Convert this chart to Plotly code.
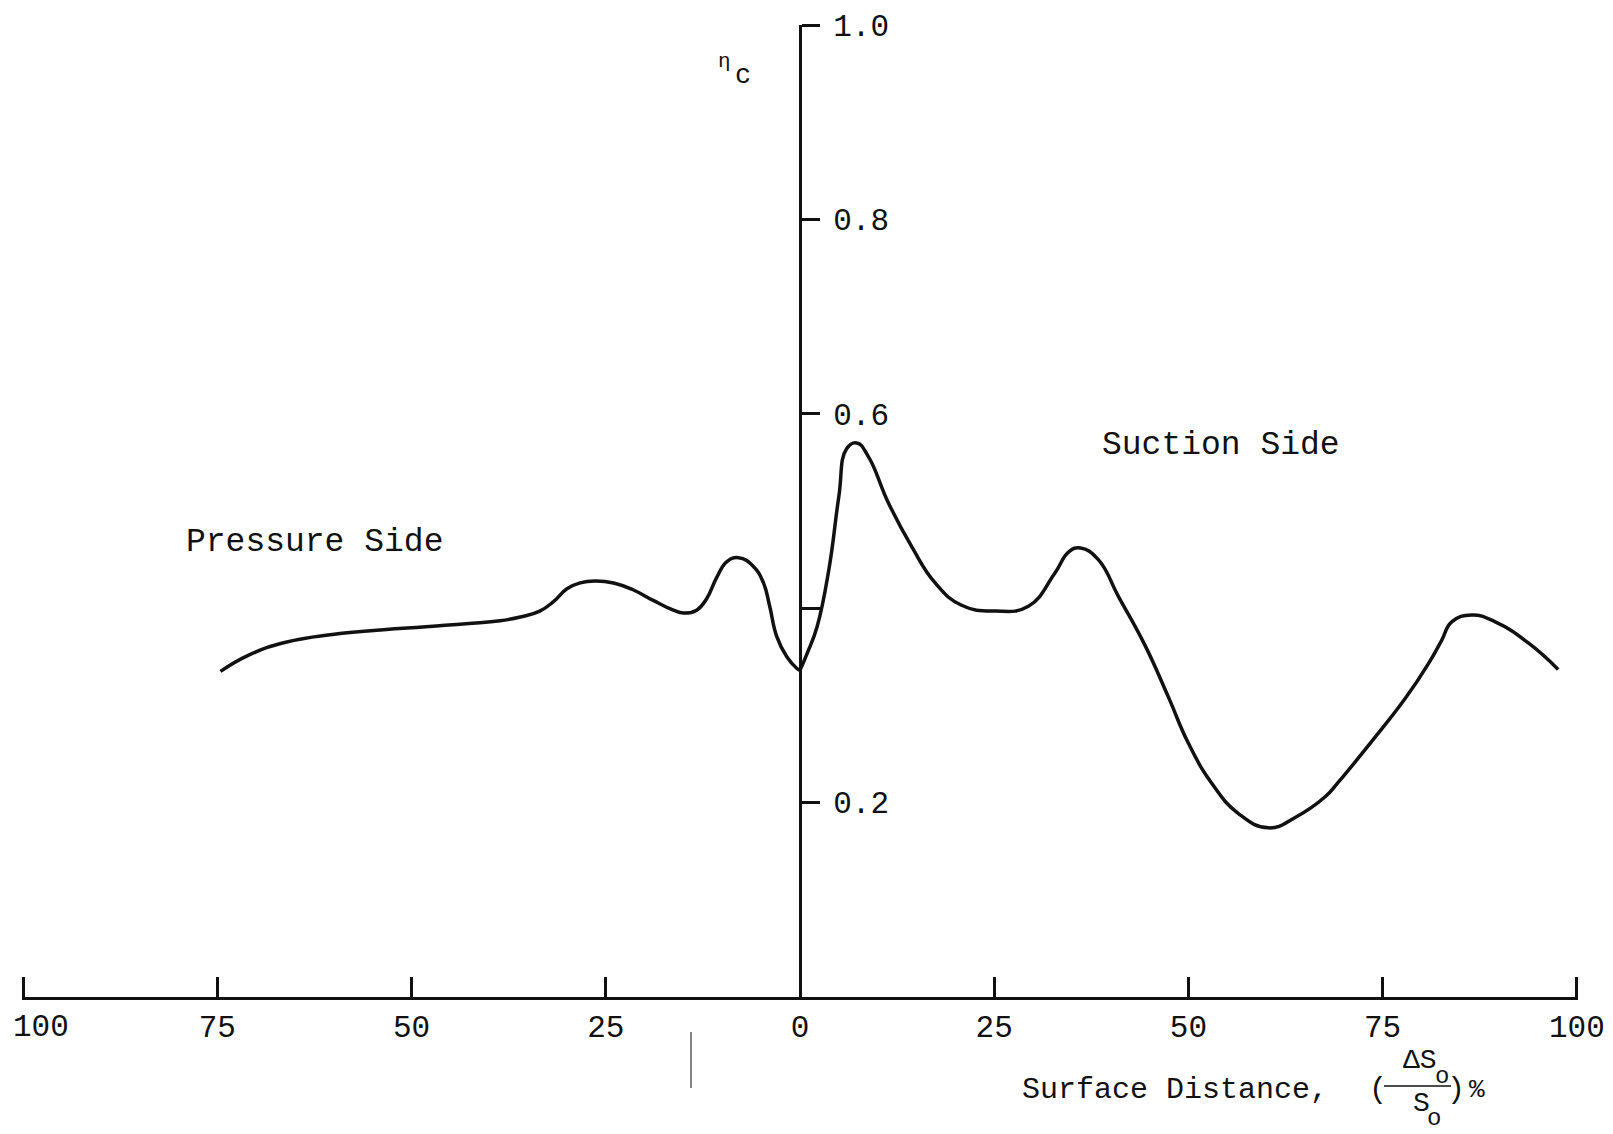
import plotly.graph_objects as go

# Cooling effectiveness along the blade surface (pressure side negative, suction side positive)
pressure_x = [-74.6, -70.9, -66.2, -60.2, -51.6, -43.0, -38.6, -36.0, -33.5, -31.7, -30.0,
              -28.3, -26.4, -24.0, -21.5, -18.9, -16.3, -15.0, -13.3, -12.0, -10.7, -9.4,
              -7.9, -6.0, -4.7, -3.9, -3.0, -1.7, -0.4, 0.0]
pressure_eta = [0.335, 0.352, 0.365, 0.373, 0.379, 0.384, 0.387, 0.391, 0.397, 0.407, 0.420,
                0.426, 0.428, 0.426, 0.419, 0.408, 0.398, 0.395, 0.398, 0.410, 0.432, 0.448,
                0.452, 0.443, 0.426, 0.402, 0.371, 0.350, 0.338, 0.336]

suction_x = [0.0, 1.0, 2.2, 3.7, 5.0, 6.0, 7.3, 8.8, 11.4, 14.4, 17.4, 20.8, 25.1, 29.4,
             32.8, 34.6, 36.1, 38.4, 41.0, 44.4, 47.4, 50.0, 53.0, 56.4, 60.3, 63.8, 67.6,
             69.3, 73.5, 77.9, 80.9, 82.6, 83.9, 86.5, 89.5, 93.8, 97.6]
suction_eta = [0.336, 0.355, 0.381, 0.439, 0.515, 0.564, 0.570, 0.556, 0.508, 0.463, 0.426,
               0.403, 0.397, 0.402, 0.436, 0.458, 0.462, 0.450, 0.412, 0.362, 0.309, 0.261,
               0.220, 0.189, 0.174, 0.185, 0.206, 0.221, 0.262, 0.307, 0.343, 0.367, 0.386,
               0.393, 0.386, 0.364, 0.337]

x_tick_vals = [-100, -75, -50, -25, 0, 25, 50, 75, 100]
x_tick_text = ["", "75", "50", "25", "0", "25", "50", "75", "100"]
left_end_label = "100"
y_tick_vals = [0.2, 0.4, 0.6, 0.8, 1.0]
y_tick_text = ["0.2", "", "0.6", "0.8", "1.0"]

W, H = 1613, 1134
L, R, T, B = 22, 35, 25, 137
FONT = "Liberation Mono"
INK = "#111111"


def px(X, Y):
    """Pixel position on the page -> paper coordinates."""
    return (X - L) / (W - L - R), (H - B - Y) / (H - T - B)


fig = go.Figure()
line_style = dict(color=INK, width=3.5, shape="spline", smoothing=1.3)
fig.add_trace(go.Scatter(x=pressure_x, y=pressure_eta, mode="lines", line=line_style,
                         name="Pressure Side", hoverinfo="skip"))
fig.add_trace(go.Scatter(x=suction_x, y=suction_eta, mode="lines", line=line_style,
                         name="Suction Side", hoverinfo="skip"))

fig.update_layout(
    width=W, height=H,
    margin=dict(l=L, r=R, t=T, b=B, autoexpand=False),
    paper_bgcolor="white", plot_bgcolor="white",
    showlegend=False,
    xaxis=dict(
        range=[-100.15, 100.15], showgrid=False, zeroline=False,
        showline=True, linecolor=INK, linewidth=3,
        ticks="inside", ticklen=20, tickwidth=3, tickcolor=INK,
        tickvals=x_tick_vals, ticktext=x_tick_text,
        tickfont=dict(family=FONT, size=31, color=INK),
        ticklabelstandoff=0, ticklabeloverflow="allow", fixedrange=True,
    ),
    yaxis=dict(
        range=[0, 1], showgrid=False, zeroline=False,
        anchor="free", position=0.5, side="right",
        showline=True, linecolor=INK, linewidth=3,
        ticks="outside", ticklen=18, tickwidth=3, tickcolor=INK,
        tickvals=y_tick_vals, ticktext=y_tick_text,
        tickfont=dict(family=FONT, size=31, color=INK),
        ticklabelstandoff=7, ticklabeloverflow="allow", fixedrange=True,
    ),
)


def label(text, X, Y, size, xanchor="center"):
    xp, yp = px(X, Y)
    fig.add_annotation(text=text, x=xp, y=yp, xref="paper", yref="paper",
                       xanchor=xanchor, yanchor="middle", showarrow=False,
                       font=dict(family=FONT, size=size, color=INK))


# Left end of the distance scale sits flush with the page edge
label(left_end_label, 11, 1027, 31, xanchor="left")

# Side labels
label("Pressure Side", 184, 542, 33, xanchor="left")
label("Suction Side", 1100, 445, 33, xanchor="left")

# Axis symbol
label("\u03b7", 724, 61, 21)
label("c", 743, 76, 27)

# Axis title with stacked fraction
label("Surface Distance,", 1020, 1090, 30, xanchor="left")
label("(", 1378, 1090, 30)
label("\u0394S", 1420, 1060, 28)
label("o", 1442, 1076, 24)
label("S", 1421, 1103, 28)
label("o", 1434, 1118, 24)
label(")", 1456, 1090, 30)
label("%", 1477, 1090, 26)

x0, y0 = px(1384, 1086)
x1, _ = px(1451, 1086)
fig.add_shape(type="line", xref="paper", yref="paper", x0=x0, x1=x1, y0=y0, y1=y0,
              line=dict(color=INK, width=1.5))

# Thin stray rule below the axis
sx, sy0 = px(691, 1032)
_, sy1 = px(691, 1088)
fig.add_shape(type="line", xref="paper", yref="paper", x0=sx, x1=sx, y0=sy0, y1=sy1,
              line=dict(color="#333333", width=1.2))

fig.write_html("out.html", config={"displayModeBar": False})
